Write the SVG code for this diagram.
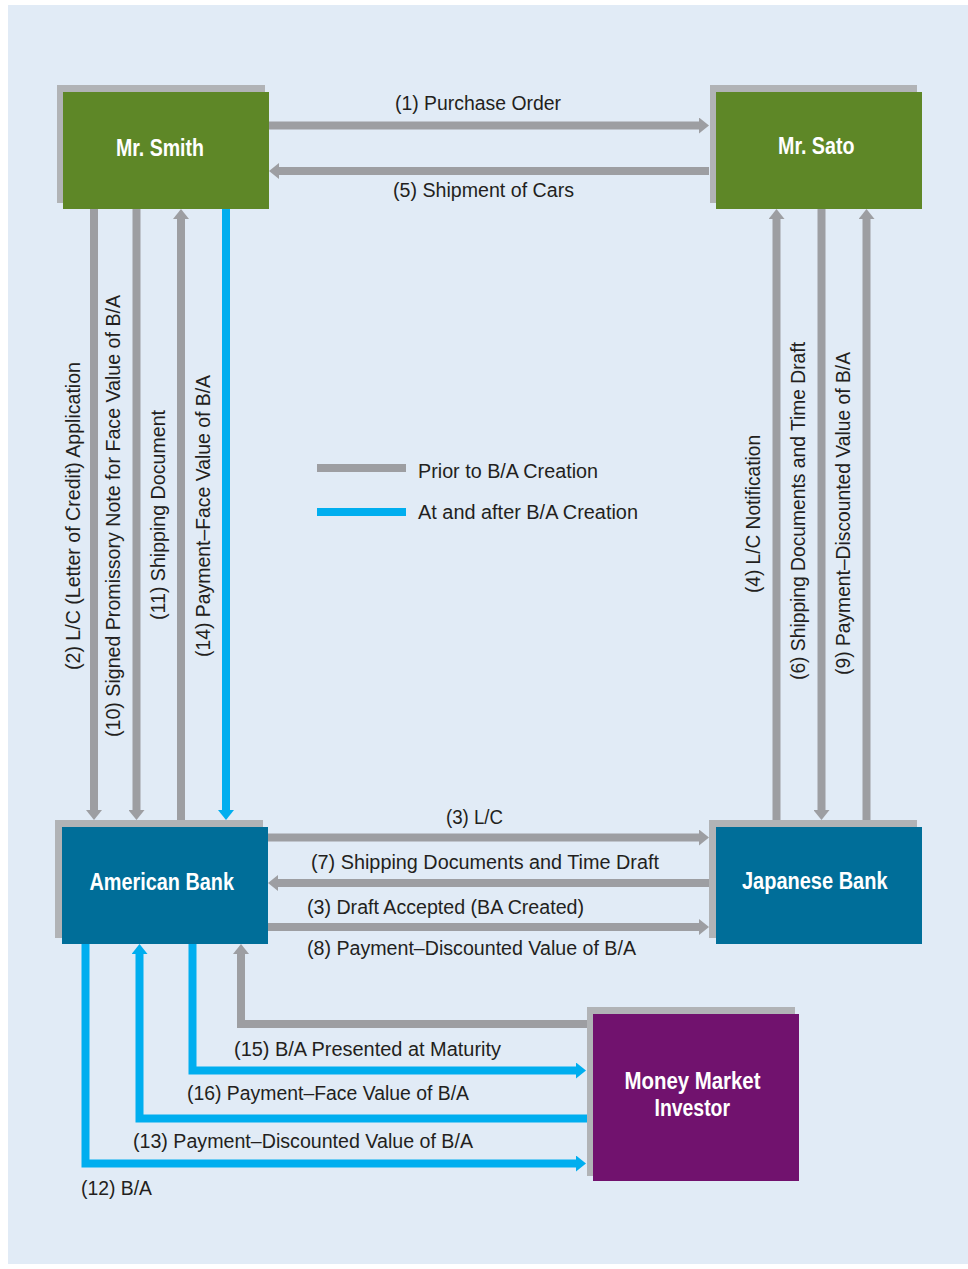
<svg xmlns="http://www.w3.org/2000/svg" width="968" height="1269" viewBox="0 0 968 1269">
<style>
.bg{fill:#e1ebf6}
.shadow{fill:#b1b3b6}
.green{fill:#5e8727}
.bank{fill:#006e99}
.purple{fill:#71126e}
.g{fill:none;stroke:#9d9ea2;stroke-width:8;stroke-linejoin:miter;stroke-linecap:butt}
.b{fill:none;stroke:#00aeef;stroke-width:8;stroke-linejoin:miter;stroke-linecap:butt}
.ga{marker-end:url(#hg)}
.ba{marker-end:url(#hb)}
.lbl{font-family:"Liberation Sans",Arial,sans-serif;font-size:20px;fill:#231f20}
.nl{font-family:"Liberation Sans",Arial,sans-serif;font-size:23.5px;font-weight:bold;fill:#ffffff}
</style>
<defs>
<marker id="hg" viewBox="-1 -8 10 16" refX="0" refY="0" markerWidth="10" markerHeight="16" markerUnits="userSpaceOnUse" orient="auto"><path d="M-1,-8 L9,0 L-1,8 z" fill="#9d9ea2"/></marker>
<marker id="hb" viewBox="-1 -8 10 16" refX="0" refY="0" markerWidth="10" markerHeight="16" markerUnits="userSpaceOnUse" orient="auto"><path d="M-1,-8 L9,0 L-1,8 z" fill="#00aeef"/></marker>
</defs>
<rect x="0" y="0" width="968" height="1269" fill="#ffffff"/>
<rect class="bg" x="8" y="5" width="960" height="1259"/>

<g id="connectors">
<g id="c1"><path class="g ga" d="M269,125.5 H700"/><text class="lbl" x="395" y="110" textLength="166" lengthAdjust="spacingAndGlyphs">(1) Purchase Order</text></g>
<g id="c5"><path class="g ga" d="M709,171 H278"/><text class="lbl" x="393" y="197" textLength="181" lengthAdjust="spacingAndGlyphs">(5) Shipment of Cars</text></g>
<g id="c2"><path class="g ga" d="M94,209 V811"/><text class="lbl" transform="translate(80,670) rotate(-90)" textLength="308" lengthAdjust="spacingAndGlyphs">(2) L/C (Letter of Credit) Application</text></g>
<g id="c10"><path class="g ga" d="M136.5,209 V811"/><text class="lbl" transform="translate(120,737) rotate(-90)" textLength="442" lengthAdjust="spacingAndGlyphs">(10) Signed Promissory Note for Face Value of B/A</text></g>
<g id="c11"><path class="g ga" d="M181,820 V218"/><text class="lbl" transform="translate(165,620) rotate(-90)" textLength="210" lengthAdjust="spacingAndGlyphs">(11) Shipping Document</text></g>
<g id="c14"><path class="b ba" d="M226,209 V811"/><text class="lbl" transform="translate(210,657) rotate(-90)" textLength="282" lengthAdjust="spacingAndGlyphs">(14) Payment–Face Value of B/A</text></g>
<g id="c4"><path class="g ga" d="M776.5,820 V218"/><text class="lbl" transform="translate(760,593) rotate(-90)" textLength="158" lengthAdjust="spacingAndGlyphs">(4) L/C Notification</text></g>
<g id="c6"><path class="g ga" d="M821.5,209 V811"/><text class="lbl" transform="translate(805,680) rotate(-90)" textLength="338" lengthAdjust="spacingAndGlyphs">(6) Shipping Documents and Time Draft</text></g>
<g id="c9"><path class="g ga" d="M866.5,820 V218"/><text class="lbl" transform="translate(850,675) rotate(-90)" textLength="323" lengthAdjust="spacingAndGlyphs">(9) Payment–Discounted Value of B/A</text></g>
<g id="c3a"><path class="g ga" d="M268,837.5 H700"/><text class="lbl" x="446" y="824" textLength="57" lengthAdjust="spacingAndGlyphs">(3) L/C</text></g>
<g id="c7"><path class="g ga" d="M709,883 H277"/><text class="lbl" x="311" y="868.5" textLength="348" lengthAdjust="spacingAndGlyphs">(7) Shipping Documents and Time Draft</text></g>
<g id="c3b"><path class="g ga" d="M268,927 H700"/><text class="lbl" x="307" y="914" textLength="277" lengthAdjust="spacingAndGlyphs">(3) Draft Accepted (BA Created)</text><text class="lbl" x="307" y="955" textLength="329" lengthAdjust="spacingAndGlyphs">(8) Payment–Discounted Value of B/A</text></g>
<g id="c-mat"><path class="g ga" d="M587,1024 H241 V953"/></g>
<g id="c15"><path class="b ba" d="M192.5,944 V1070.5 H577"/><text class="lbl" x="234" y="1055.5" textLength="267" lengthAdjust="spacingAndGlyphs">(15) B/A Presented at Maturity</text></g>
<g id="c16"><path class="b ba" d="M587,1118.5 H139.5 V953"/><text class="lbl" x="187" y="1099.5" textLength="282" lengthAdjust="spacingAndGlyphs">(16) Payment–Face Value of B/A</text></g>
<g id="c13"><text class="lbl" x="133" y="1147.5" textLength="340" lengthAdjust="spacingAndGlyphs">(13) Payment–Discounted Value of B/A</text></g>
<g id="c12"><path class="b ba" d="M85.5,944 V1163.5 H577"/><text class="lbl" x="81" y="1194.5" textLength="71" lengthAdjust="spacingAndGlyphs">(12) B/A</text></g>
</g>

<g id="legend">
<path class="g" d="M317,468 H406"/>
<text class="lbl" x="418" y="477.5" textLength="180" lengthAdjust="spacingAndGlyphs">Prior to B/A Creation</text>
<path class="b" d="M317,512 H406"/>
<text class="lbl" x="418" y="518.5" textLength="220" lengthAdjust="spacingAndGlyphs">At and after B/A Creation</text>
</g>

<g id="mr-smith">
<rect class="shadow" x="57" y="85" width="208" height="118"/>
<rect class="green" x="63" y="92" width="206" height="117"/>
<text class="nl" x="116" y="156" textLength="88" lengthAdjust="spacingAndGlyphs">Mr. Smith</text>
</g>
<g id="mr-sato">
<rect class="shadow" x="710" y="85" width="207" height="118"/>
<rect class="green" x="716" y="92" width="206" height="117"/>
<text class="nl" x="778" y="154" textLength="76.5" lengthAdjust="spacingAndGlyphs">Mr. Sato</text>
</g>
<g id="american-bank">
<rect class="shadow" x="55" y="820" width="208" height="118"/>
<rect class="bank" x="62" y="827" width="206" height="117"/>
<text class="nl" x="89.5" y="890" textLength="144.5" lengthAdjust="spacingAndGlyphs">American Bank</text>
</g>
<g id="japanese-bank">
<rect class="shadow" x="709" y="820" width="208" height="118"/>
<rect class="bank" x="716" y="827" width="206" height="117"/>
<text class="nl" x="742" y="889" textLength="145.5" lengthAdjust="spacingAndGlyphs">Japanese Bank</text>
</g>
<g id="money-market-investor">
<rect class="shadow" x="587" y="1007" width="208" height="169"/>
<rect class="purple" x="593" y="1014" width="206" height="167"/>
<text class="nl" x="624.5" y="1089" textLength="136" lengthAdjust="spacingAndGlyphs">Money Market</text>
<text class="nl" x="654.5" y="1116" textLength="75.5" lengthAdjust="spacingAndGlyphs">Investor</text>
</g>
</svg>
